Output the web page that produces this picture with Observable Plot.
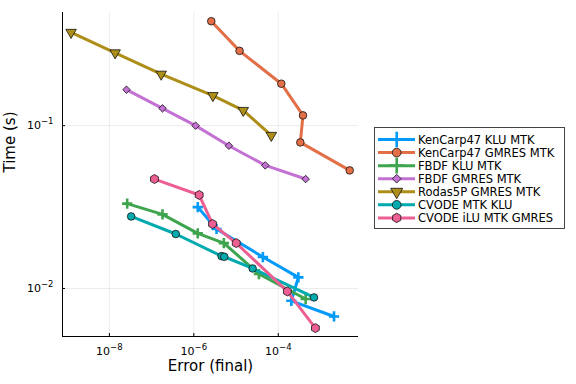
<!DOCTYPE html>
<html><head><meta charset="utf-8">
<script src="https://cdn.jsdelivr.net/npm/d3@7"></script>
<script src="https://cdn.jsdelivr.net/npm/@observablehq/plot@0.6"></script>
<style>
html,body{margin:0;padding:0;background:#fff;}
#chart{position:relative;width:576px;height:384px;}
</style></head><body><div id="chart"></div>
<script>
// ---- data ----
const seriesNames = ["KenCarp47 KLU MTK","KenCarp47 GMRES MTK","FBDF KLU MTK","FBDF GMRES MTK","Rodas5P GMRES MTK","CVODE MTK KLU","CVODE iLU MTK GMRES"];
const seriesColors = ["#009AFA","#E36F47","#3EA44E","#C371D2","#AC8E18","#00AAAE","#ED5E93"];
const seriesSymbols = ["plus","circle","plus","diamond2","triangle","circle","hexagon"];

const kenKLU_err   = [1.24e-6, 3.45e-6, 4.32e-5, 2.99e-4, 2.04e-4, 2.09e-3];
const kenKLU_time  = [0.0316, 0.0232, 0.0156, 0.0117, 0.0084, 0.00673];
const kenGMRES_err  = [2.59e-6, 1.21e-5, 1.18e-4, 3.85e-4, 3.33e-4, 4.92e-3];
const kenGMRES_time = [0.438, 0.288, 0.181, 0.1156, 0.0789, 0.0531];
const fbdfKLU_err  = [2.64e-8, 1.81e-7, 1.24e-6, 5.14e-6, 3.48e-5, 4.45e-4];
const fbdfKLU_time = [0.0332, 0.0285, 0.0218, 0.0190, 0.01227, 0.00861];
const fbdfGMRES_err  = [2.54e-8, 1.81e-7, 1.10e-6, 6.76e-6, 4.93e-5, 4.45e-4];
const fbdfGMRES_time = [0.1663, 0.1277, 0.100, 0.0753, 0.0570, 0.0470];
const rodas_err  = [1.24e-9, 1.37e-8, 1.69e-7, 2.83e-6, 1.48e-5, 6.84e-5];
const rodas_time = [0.374, 0.280, 0.207, 0.153, 0.124, 0.0871];
const cvodeKLU_err  = [3.28e-8, 3.74e-7, 4.54e-6, 5.26e-6, 2.47e-5, 7.02e-4];
const cvodeKLU_time = [0.0277, 0.0216, 0.0158, 0.01566, 0.01327, 0.00881];
const cvodeILU_err  = [1.17e-7, 1.34e-6, 2.77e-6, 1.01e-5, 1.64e-4, 7.57e-4];
const cvodeILU_time = [0.0470, 0.0375, 0.0249, 0.0190, 0.00959, 0.00571];

const xTicks = [1e-8, 1e-6, 1e-4];
const yTicks = [1e-2, 1e-1];
const xDomain = [Math.pow(10, -9.11), Math.pow(10, -2.10)];
const yDomain = [Math.pow(10, -2.295), Math.pow(10, -0.305)];
const xLabel = "Error (final)";
const yLabel = "Time (s)";

const errs = [kenKLU_err, kenGMRES_err, fbdfKLU_err, fbdfGMRES_err, rodas_err, cvodeKLU_err, cvodeILU_err];
const times = [kenKLU_time, kenGMRES_time, fbdfKLU_time, fbdfGMRES_time, rodas_time, cvodeKLU_time, cvodeILU_time];

const series = seriesNames.map((name, i) => ({
  name, color: seriesColors[i], symbol: seriesSymbols[i],
  rows: errs[i].map((e, j) => ({err: e, time: times[i][j]}))
}));

const symR = {plus: 3.4, circle: 3.8, diamond2: 3.4, triangle: 3.9, hexagon: 3.9};

const marks = [
  Plot.gridX(xTicks, {stroke: "#000", strokeOpacity: 0.08, strokeWidth: 1}),
  Plot.gridY(yTicks, {stroke: "#000", strokeOpacity: 0.08, strokeWidth: 1}),
];
for (const s of series) {
  marks.push(Plot.line(s.rows, {x: "err", y: "time", stroke: s.color, strokeWidth: 3}));
  if (s.symbol === "plus") {
    marks.push(Plot.dot(s.rows, {x: "err", y: "time", symbol: "plus", r: symR.plus, stroke: s.color, strokeWidth: 2.6}));
  } else {
    marks.push(Plot.dot(s.rows, {x: "err", y: "time", symbol: s.symbol, r: symR[s.symbol], fill: s.color, stroke: "#111", strokeWidth: 0.8, rotate: s.symbol === "triangle" ? 180 : 0}));
  }
}
marks.push(
  Plot.ruleX([xDomain[0]], {stroke: "#000", strokeWidth: 1}),
  Plot.ruleY([yDomain[0]], {stroke: "#000", strokeWidth: 1}),
  Plot.axisX({ticks: xTicks, tickSize: -3, tickFormat: () => "", stroke: "#000"}),
  Plot.axisY({ticks: yTicks, tickSize: -3, tickFormat: () => "", stroke: "#000"}),
  Plot.axisX({ticks: xTicks, tickSize: 0, tickPadding: 11, tickFormat: d => String(Math.round(Math.log10(d))), label: null, fontSize: 11}),
  Plot.axisY({ticks: yTicks, tickSize: 0, tickPadding: 9, tickFormat: d => String(Math.round(Math.log10(d))), label: null, fontSize: 11}),
  Plot.text([xLabel], {frameAnchor: "bottom", dy: 34.5, fontSize: 15, fill: "#000"}),
  Plot.text([yLabel], {frameAnchor: "left", dx: -52, dy: -2, rotate: -90, fontSize: 15, fill: "#000"})
);

const chart = Plot.plot({
  width: 576, height: 384,
  marginLeft: 62, marginRight: 218, marginTop: 12, marginBottom: 48,
  style: {fontFamily: "DejaVu Sans", fontSize: "11px", background: "white", color: "#000"},
  x: {type: "log", domain: xDomain, label: null},
  y: {type: "log", domain: yDomain, label: null},
  marks
});
document.getElementById("chart").appendChild(chart);

// superscript exponents on tick labels
const svg = d3.select(chart.tagName.toLowerCase() === "svg" ? chart : chart.querySelector("svg"));
svg.selectAll('g[aria-label="x-axis tick label"] text, g[aria-label="y-axis tick label"] text').each(function() {
  const t = d3.select(this);
  const exp = t.text();
  if (exp === "") return;
  t.text("");
  t.append("tspan").text("10");
  t.append("tspan").attr("dy", "-5").attr("font-size", "8.5px").text(exp.replace("-", "\u2212"));
});

// legend
const lg = svg.append("g").attr("transform", "translate(374,127)").attr("font-family", "DejaVu Sans").attr("text-anchor", "start");
lg.append("rect").attr("x", 0.5).attr("y", 0.5).attr("width", 190).attr("height", 101).attr("fill", "white").attr("stroke", "#444").attr("stroke-width", 1);
const hexagonSym = {draw(ctx, size) {
  const r = Math.sqrt(size / Math.PI) * 1.05;
  for (let k = 0; k < 6; k++) {
    const a = Math.PI / 6 + k * Math.PI / 3;
    const px = r * Math.cos(a), py = r * Math.sin(a);
    if (k === 0) ctx.moveTo(px, py); else ctx.lineTo(px, py);
  }
  ctx.closePath();
}};
const d3sym = {plus: d3.symbolPlus, circle: d3.symbolCircle, diamond2: d3.symbolDiamond2, triangle: d3.symbolTriangle, hexagon: hexagonSym};
series.forEach((s, i) => {
  const y = 12.5 + 13.07 * i;
  const row = lg.append("g").attr("transform", `translate(0,${y})`);
  row.append("line").attr("x1", 4).attr("x2", 41).attr("y1", 0).attr("y2", 0).attr("stroke", s.color).attr("stroke-width", 3);
  const r = symR[s.symbol] * (s.symbol === "plus" ? 1.5 : 1.15);
  const path = d3.symbol(d3sym[s.symbol], Math.PI * r * r)();
  const p = row.append("path").attr("d", path).attr("transform", `translate(22.7,0)${s.symbol === "triangle" ? " rotate(180)" : ""}`);
  if (s.symbol === "plus") p.attr("fill", "none").attr("stroke", s.color).attr("stroke-width", 2.6);
  else p.attr("fill", s.color).attr("stroke", "#111").attr("stroke-width", 0.8);
  row.append("text").attr("x", 44).attr("y", 0).attr("dy", "0.36em").attr("font-size", "11.5px").attr("fill", "#000").attr("text-anchor", "start").text(s.name);
});
</script></body></html>
